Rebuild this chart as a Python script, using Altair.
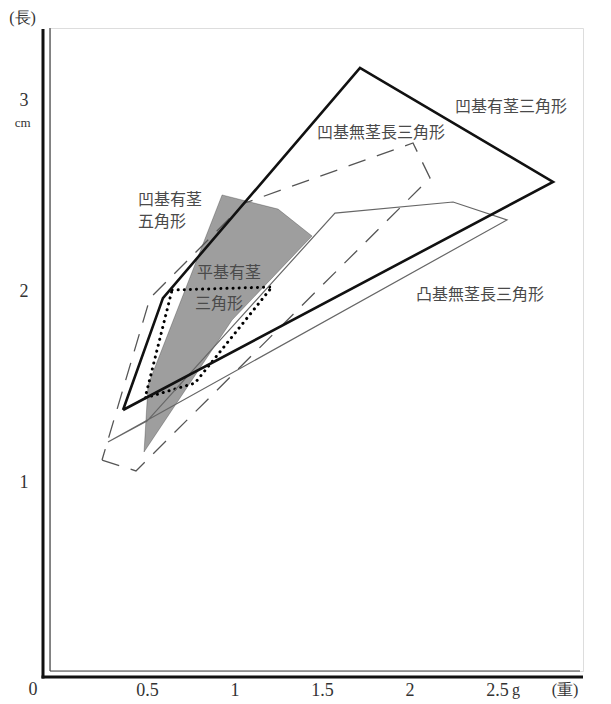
import altair as alt
import pandas as pd

# ---- data (weight g, length cm) ----
# 凹基有茎三角形 (thick solid)
A_x = [0.363, 0.591, 1.717, 2.820, 0.363]
A_y = [1.377, 1.963, 3.168, 2.571, 1.377]
# 凸基無茎長三角形 (thin solid)
B_x = [0.277, 0.500, 1.574, 2.249, 2.557, 0.277]
B_y = [1.209, 1.319, 2.408, 2.466, 2.372, 1.209]
# 凹基無茎長三角形 (dashed)
C_x = [0.243, 0.437, 2.117, 2.020, 1.060, 0.517, 0.243]
C_y = [1.115, 1.058, 2.592, 2.775, 2.461, 1.963, 1.115]
# 凹基有茎五角形 (stippled area)
D_x = [0.483, 0.506, 0.929, 1.249, 1.443, 0.986, 0.483]
D_y = [1.157, 1.508, 2.503, 2.429, 2.288, 1.848, 1.157]
# 平基有茎三角形 (dotted outline)
E_x = [0.643, 1.214, 0.774, 0.489, 0.643]
E_y = [2.005, 2.021, 1.518, 1.440, 2.005]

x_ticks = [0.5, 1, 1.5, 2, 2.5]
y_ticks = [1, 2, 3]

labels_text = ["凹基有茎三角形", "凹基無茎長三角形", "凹基有茎", "五角形",
               "平基有茎", "三角形", "凸基無茎長三角形"]
labels_x = [2.58, 1.837, 0.449, 0.449, 0.786, 0.774, 2.403]
labels_y = [2.963, 2.827, 2.476, 2.361, 2.094, 1.932, 1.979]
labels_align = ["center", "center", "left", "left", "left", "left", "center"]

annot_text = ["(長)", "cm", "0", "g", "(重)"]
annot_x = [-0.211, -0.211, -0.151, 2.608, 2.889]
annot_y = [3.43, 2.88, -0.089, -0.089, -0.089]
annot_size = [16, 13, 18, 16, 16]

# ---- layout ----
W, H = 533, 643
xdom = [-0.0543, 2.9914]
ydom = [0.0105, 3.377]


def poly(xs, ys):
    return pd.DataFrame({"x": xs, "y": ys, "i": list(range(len(xs)))})


xs = alt.Scale(domain=xdom, nice=False, zero=False)
ys = alt.Scale(domain=ydom, nice=False, zero=False)

x_axis = alt.Axis(
    values=x_ticks, domain=False, ticks=False, grid=False, title=None,
    labelFont="Liberation Serif", labelFontSize=18, labelColor="#333333",
    labelPadding=10,
    labelExpr="datum.value == 1 || datum.value == 2 ? format(datum.value, 'd') : format(datum.value, '.1f')")
y_axis = alt.Axis(
    values=y_ticks, domain=False, ticks=False, grid=False, title=None,
    labelFont="Liberation Serif", labelFontSize=18, labelColor="#333333",
    labelPadding=22, labelExpr="format(datum.value, 'd')")

xenc = alt.X("x:Q", scale=xs, axis=x_axis)
yenc = alt.Y("y:Q", scale=ys, axis=y_axis)
order = alt.Order("i:O")

D = alt.Chart(poly(D_x, D_y)).mark_line(
    interpolate="linear-closed", fill="#000000", fillOpacity=0.38,
    stroke="#000000", strokeOpacity=0.25, strokeWidth=1
).encode(x=xenc, y=yenc, order=order)

E = alt.Chart(poly(E_x, E_y)).mark_line(
    color="#000000", strokeWidth=3, strokeDash=[0.1, 6], strokeCap="round"
).encode(x=xenc, y=yenc, order=order)

C = alt.Chart(poly(C_x, C_y)).mark_line(
    color="#555555", strokeWidth=1.3, strokeDash=[18, 12]
).encode(x=xenc, y=yenc, order=order)

B = alt.Chart(poly(B_x, B_y)).mark_line(
    color="#666666", strokeWidth=1.2
).encode(x=xenc, y=yenc, order=order)

A = alt.Chart(poly(A_x, A_y)).mark_line(
    color="#111111", strokeWidth=2.6, strokeJoin="miter"
).encode(x=xenc, y=yenc, order=order)

# double axis lines
thin_v = alt.Chart().mark_rule(color="#444444", strokeWidth=1.2).encode(
    x=alt.value(0), y=alt.value(0), y2=alt.value(H))
thin_h = alt.Chart().mark_rule(color="#444444", strokeWidth=1.2).encode(
    x=alt.value(0), x2=alt.value(W - 3), y=alt.value(H))
thick_v = alt.Chart().mark_rule(color="#111111", strokeWidth=3).encode(
    x=alt.value(-7), y=alt.value(1), y2=alt.value(H + 7.5))
thick_h = alt.Chart().mark_rule(color="#111111", strokeWidth=3).encode(
    x=alt.value(-8.5), x2=alt.value(W), y=alt.value(H + 6))

lab_df = pd.DataFrame({"t": labels_text, "x": labels_x, "y": labels_y, "a": labels_align})
lab_c = alt.Chart(lab_df[lab_df.a == "center"]).mark_text(
    font="Noto Sans CJK JP", fontSize=16, color="#4a4a4a", align="center", baseline="middle"
).encode(x=xenc, y=yenc, text="t:N")
lab_l = alt.Chart(lab_df[lab_df.a == "left"]).mark_text(
    font="Noto Sans CJK JP", fontSize=16, color="#4a4a4a", align="left", baseline="middle"
).encode(x=xenc, y=yenc, text="t:N")

ann_df = pd.DataFrame({"t": annot_text, "x": annot_x, "y": annot_y, "s": annot_size})
ann = alt.Chart(ann_df).mark_text(
    font="Liberation Serif", color="#333333", align="center", baseline="middle"
).encode(x=xenc, y=yenc, text="t:N", size=alt.Size("s:Q", scale=None, legend=None))

chart = alt.layer(
    D, E, C, B, A, thin_v, thin_h, thick_v, thick_h, lab_c, lab_l, ann
).properties(
    width=W, height=H,
    autosize=alt.AutoSizeParams(type="none"),
    padding={"left": 42, "top": 20, "right": 20, "bottom": 40},
).configure_view(stroke=None).configure(background="white")

chart.save("out.html", embed_options={"renderer": "svg", "actions": False})
